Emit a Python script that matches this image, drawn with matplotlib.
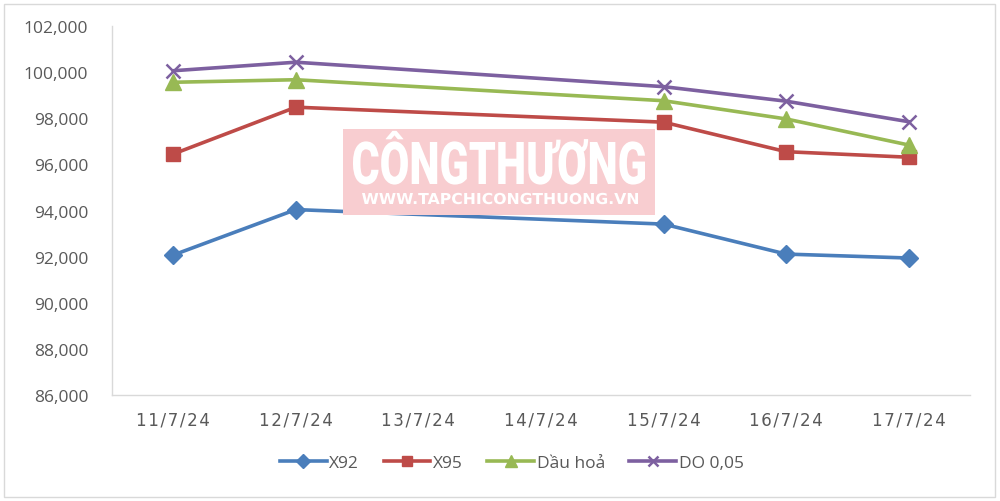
import matplotlib
matplotlib.use("Agg")
import matplotlib.pyplot as plt
from matplotlib.patches import Rectangle, PathPatch
from matplotlib.textpath import TextPath
from matplotlib.font_manager import FontProperties
from matplotlib.transforms import Affine2D
import numpy as np

categories = ["11/7/24", "12/7/24", "13/7/24", "14/7/24", "15/7/24", "16/7/24", "17/7/24"]
data_idx = [0, 1, 4, 5, 6]
x92 = [92070, 94040, 93410, 92110, 91940]
x95 = [96450, 98480, 97830, 96550, 96310]
dau_hoa = [99560, 99670, 98760, 97970, 96840]
do005 = [100060, 100430, 99370, 98740, 97850]
yticks = list(range(86000, 102001, 2000))

series = [
    ("X92", x92, "#4A7EBB", "D", 9),
    ("X95", x95, "#BE4B48", "s", 10),
    ("Dầu hoả", dau_hoa, "#98B954", "^", 11),
    ("DO 0,05", do005, "#7D60A0", "x", 10),
]

W, H = 1000, 502
plt.rcParams['font.family'] = ['Open Sans', 'DejaVu Sans']
fig = plt.figure(figsize=(W / 100, H / 100), dpi=100)
ax = fig.add_axes([0.112, 1 - 396 / H, 0.858, 369 / H])


def fit_text(s, x0, x1, ycap_top, ycap_bot, family, weight):
    """Draw text squeezed into a pixel box (top-left origin)."""
    tp = TextPath((0, 0), s, size=100, prop=FontProperties(family=family, weight=weight))
    ref = TextPath((0, 0), "H", size=100, prop=FontProperties(family=family, weight=weight))
    ext = tp.get_extents()
    cap = ref.get_extents().y1
    sx = (x1 - x0) / ext.width
    sy = (ycap_bot - ycap_top) / cap
    tr = Affine2D().translate(-ext.x0, 0).scale(sx, sy).translate(x0, H - ycap_bot) \
        .scale(1 / W, 1 / H) + fig.transFigure
    fig.patches.append(PathPatch(tp, transform=tr, facecolor="white", edgecolor="none", zorder=1))


# watermark
fig.patches.append(Rectangle((343 / W, 1 - 216 / H), 312 / W, 86 / H, transform=fig.transFigure,
                             facecolor="#F8CDD0", edgecolor="none", zorder=0))
fit_text("CÔNGTHƯƠNG", 353, 645, 143, 185, "Roboto", "black")
fit_text("WWW.TAPCHICONGTHUONG.VN", 362, 638, 194, 205, "DejaVu Sans", "bold")
ax.set_facecolor("none")

for name, vals, color, m, ms in series:
    mew = 1.8 if m == "x" else 1
    ax.plot(data_idx, vals, color=color, lw=2.6, marker=m, markersize=ms, label=name,
            markeredgewidth=mew, markeredgecolor=color, markerfacecolor=color, zorder=3)

ax.set_xlim(-0.5, len(categories) - 0.5)
ax.set_ylim(86000, 102000)
ax.set_yticks(yticks)
ax.set_yticklabels([f"{v:,}" for v in yticks])
ax.set_xticks(range(len(categories)))
ax.set_xticklabels(["\u200a".join(c) for c in categories])
ax.tick_params(axis="both", length=0, labelsize=12.5, colors="#595959")
ax.tick_params(axis="y", pad=17)
ax.tick_params(axis="x", pad=11)
for lab in ax.get_xticklabels():
    lab.set_fontproperties({"family": "DejaVu Sans", "size": 12})
    lab.set_color("#595959")
for s in ["top", "right"]:
    ax.spines[s].set_visible(False)
for s in ["left", "bottom"]:
    ax.spines[s].set_color("#D9D9D9")
    ax.spines[s].set_linewidth(1)

leg = ax.legend(loc="center", bbox_to_anchor=(0.466, -0.184), ncol=4, frameon=False,
                fontsize=12.5, handlelength=2.7, columnspacing=1.4, handletextpad=0.15,
                markerscale=0.75)
for t in leg.get_texts():
    t.set_color("#595959")

fig.patches.append(Rectangle((4 / W, 4 / H), 991 / W, 493 / H, transform=fig.transFigure,
                             facecolor="none", edgecolor="#D9D9D9", lw=1, zorder=0))
fig.savefig("out.png", dpi=100)
